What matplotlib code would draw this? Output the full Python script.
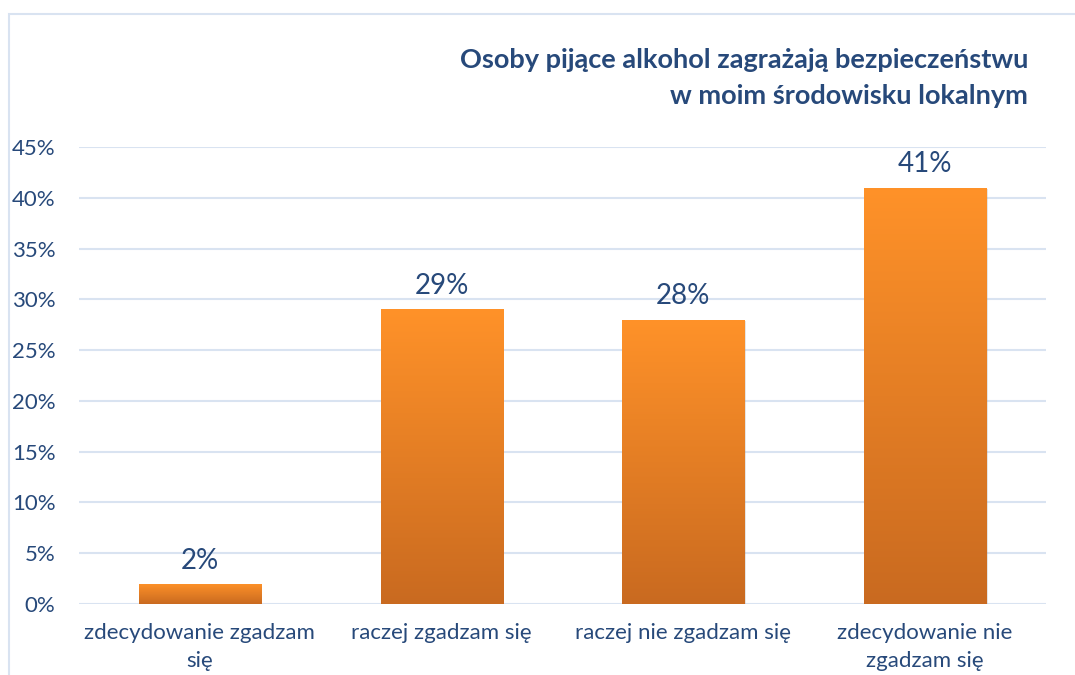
import matplotlib.pyplot as plt
import numpy as np
from matplotlib.colors import LinearSegmentedColormap
from matplotlib.patches import Rectangle

plt.rcParams['font.family'] = ['Lato', 'DejaVu Sans']

categories = ['zdecydowanie zgadzam\nsię', 'raczej zgadzam się',
              'raczej nie zgadzam się', 'zdecydowanie nie\nzgadzam się']
values = [2, 29, 28, 41]
yticks = [0, 5, 10, 15, 20, 25, 30, 35, 40, 45]
TITLE = 'Osoby pijące alkohol zagrażają bezpieczeństwu\nw moim środowisku lokalnym'

TEXT = '#27497A'
GRID = '#D9E3F1'
grad = LinearSegmentedColormap.from_list('bar', ['#C96A20', '#FF9229'])

fig = plt.figure(figsize=(10.75, 6.75), dpi=100)
ax = fig.add_axes([79 / 1075, 1 - 604 / 675, (1046 - 79) / 1075, (604 - 147) / 675])

# chart frame, clipped by the image edges like in the original
fig.patches.append(Rectangle((9 / 1075, -0.1), 1.2, 1.1 - 14 / 675,
                             transform=fig.transFigure, fill=False,
                             edgecolor=GRID, lw=1.5))

x = np.arange(len(categories))
width = 0.505
bars = ax.bar(x, values, width=width, color='none', zorder=3)

g = np.linspace(0, 1, 256).reshape(-1, 1)
for b, v in zip(bars, values):
    # soft shadow
    ax.add_patch(Rectangle((b.get_x() + 0.006, -0.25), width, v + 0.1,
                           color='#9a9a9a', alpha=0.25, lw=0, zorder=2))
    im = ax.imshow(g, cmap=grad, aspect='auto', origin='lower',
                   extent=[b.get_x(), b.get_x() + width, 0, v], zorder=3)
    im.set_clip_path(b)
    ax.text(b.get_x() + width / 2, v + 1.0, f'{v}%', ha='center', va='bottom',
            fontsize=20, color=TEXT)

ax.set_xlim(-0.5, 3.5)
ax.set_ylim(0, 45)
ax.set_yticks(yticks)
ax.set_yticklabels([f'{t}%' for t in yticks])
ax.set_xticks(x)
ax.set_xticklabels(categories, linespacing=1.5)
ax.tick_params(axis='both', length=0, labelsize=16, labelcolor=TEXT)
ax.tick_params(axis='y', pad=17)
ax.tick_params(axis='x', pad=14)
ax.grid(axis='y', color=GRID, lw=1.5, zorder=0)
ax.set_axisbelow(True)
for s in ax.spines.values():
    s.set_visible(False)

fig.text(1028 / 1075, 1 - 48 / 675, TITLE, ha='right', va='top',
         fontsize=19.5, fontweight='bold', color=TEXT, linespacing=1.6)

fig.savefig('out.png', dpi=100)
